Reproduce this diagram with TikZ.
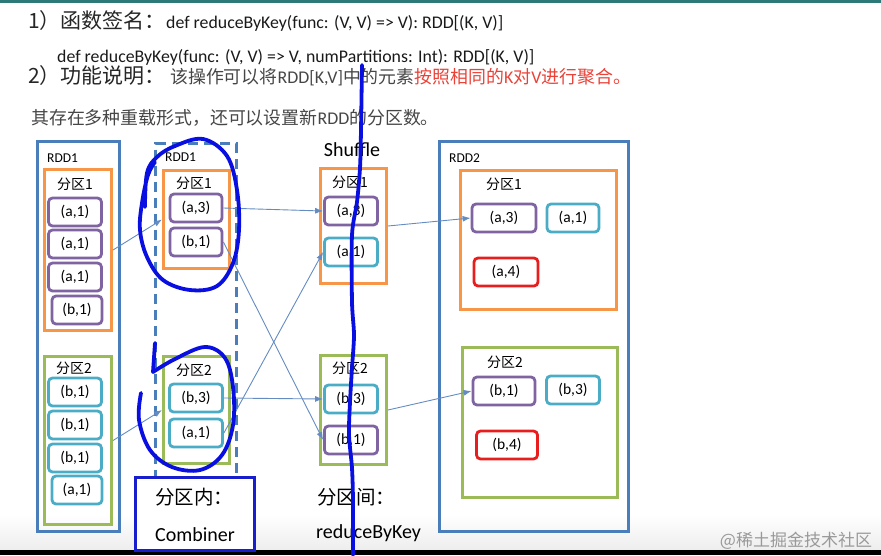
\documentclass[tikz,border=0pt]{standalone}
\usepackage{fontspec}
\setmainfont{Carlito}
\newfontfamily\cjk{Noto Sans CJK SC}
\usepackage{xcolor}
\usepackage{tikz}
\usetikzlibrary{arrows.meta, positioning}
\definecolor{rddblue}{RGB}{74,126,187}
\definecolor{partorange}{RGB}{247,150,70}
\definecolor{partgreen}{RGB}{155,187,89}
\definecolor{kvpurple}{RGB}{128,100,162}
\definecolor{kvteal}{RGB}{75,172,198}
\definecolor{kvred}{RGB}{232,30,30}
\definecolor{flowblue}{RGB}{100,140,195}
\definecolor{inkblue}{RGB}{10,15,225}
\definecolor{combblue}{RGB}{25,30,205}
\definecolor{textgray}{RGB}{70,70,70}
\definecolor{notered}{RGB}{235,65,55}
\definecolor{topteal}{RGB}{45,120,120}
\newcommand{\zh}[1]{{\cjk #1}}

\begin{document}
\begin{tikzpicture}[x=1pt, y=-1pt,
    frame/.style={draw, line width=3pt, anchor=north west, inner sep=0pt},
    rddframe/.style={frame, draw=rddblue},
    orangeframe/.style={frame, draw=partorange},
    greenframe/.style={frame, draw=partgreen},
    kv/.style={draw, rounded corners=4pt, line width=2.8pt, minimum width=53pt, minimum height=28pt, inner sep=0pt, font=\fontsize{15.5}{15.5}\selectfont},
    kvp/.style={kv, draw=kvpurple},
    kvt/.style={kv, draw=kvteal},
    kvr/.style={kv, draw=kvred},
    lbl/.style={inner sep=0pt, font=\fontsize{13.5}{13.5}\selectfont},
    part/.style={inner sep=0pt, font=\fontsize{14}{14}\selectfont\cjk},
    big/.style={inner sep=0pt, font=\fontsize{20}{20}\selectfont},
    line/.style={anchor=base west, inner sep=0pt, font=\fontsize{17.8}{17.8}\selectfont},
    desc/.style={line, text=textgray, font=\fontsize{17.9}{17.9}\selectfont},
    head/.style={anchor=base west, inner sep=0pt, text height=15pt, text=black!85, font=\fontsize{21}{21}\selectfont\cjk},
    flow/.style={draw=flowblue, line width=0.9pt, -{Latex[length=8pt,width=6pt]}},
    ink/.style={draw=inkblue, line width=3.8pt, line cap=round, line join=round}]
\useasboundingbox (0,0) rectangle (881,555);
\fill[topteal] (0,0) rectangle (881,2.5);
\shade[top color=white, bottom color=black!7] (0,515) rectangle (881,550);
\fill[black] (0,550) rectangle (881,555);

\node[head] (sigHead) at (28,28) {1）函数签名：};
\node[line, text=black!90] (sigOne) at (166,28) {def reduceByKey(func: (V, V) => V): RDD[(K, V)]};
\node[line, text=black!90, text depth=3pt] (sigTwo) at (57,62) {def reduceByKey(func: (V, V) => V, numPartitions: Int): RDD[(K, V)]};
\node[head] (descHead) at (28,83) {2）功能说明：};
\node[desc] (descText) at (170,83) {\zh{该操作可以将}RDD[K,V]\zh{中的元素}\textcolor{notered}{\zh{按照相同的}K\zh{对}V\zh{进行聚合。}}};
\node[desc] (descMore) at (31,124) {\zh{其存在多种重载形式，还可以设置新}RDD\zh{的分区数。}};

% RDD1
\node[rddframe, minimum width=82pt, minimum height=390pt] (rddA) at (36,140) {};
\node[lbl, anchor=west] (rddAname) at (47,158) {RDD1};
\node[orangeframe, minimum width=67pt, minimum height=161pt] (rddAp1) at (43,168) {};
\node[part] (rddAp1name) at (75,184) {分区1};
\node[kvp] (la1) at (75,212) {(a,1)};
\node[kvp] (la2) at (75,244) {(a,1)};
\node[kvp] (la3) at (75,277) {(a,1)};
\node[kvp, minimum width=50pt] (lb1) at (77,310) {(b,1)};
\node[greenframe, minimum width=67pt, minimum height=168pt] (rddAp2) at (43,355) {};
\node[part] (rddAp2name) at (74,368) {分区2};
\node[kvt] (lb2) at (75,392) {(b,1)};
\node[kvt] (lb3) at (75,425) {(b,1)};
\node[kvt] (lb4) at (75,458) {(b,1)};
\node[kvt, minimum width=50pt] (la4) at (77,490) {(a,1)};

% RDD1 after combine
\node[rddframe, dashed, dash pattern=on 10pt off 6pt, minimum width=81pt, minimum height=360pt] (rddB) at (154,142) {};
\node[lbl, anchor=west] (rddBname) at (165,157) {RDD1};
\node[orangeframe, minimum width=66pt, minimum height=98pt] (rddBp1) at (162,169) {};
\node[part] (rddBp1name) at (194,183) {分区1};
\node[kvp, minimum width=52pt] (ma3) at (196,208) {(a,3)};
\node[kvp, minimum width=52pt] (mb1) at (196,242) {(b,1)};
\node[greenframe, minimum width=66pt, minimum height=107pt] (rddBp2) at (162,355) {};
\node[part] (rddBp2name) at (194,370) {分区2};
\node[kvt, minimum width=53pt] (mb3) at (196,398) {(b,3)};
\node[kvt, minimum width=53pt] (ma1) at (196,433) {(a,1)};
\node[frame, draw=combblue, line width=3.2pt, fill=white, minimum width=119pt, minimum height=73pt] (comb) at (134,476) {};
\node[big, anchor=west, font=\fontsize{19.5}{19.5}\selectfont\cjk] (combHead) at (155,497) {分区内：};
\node[big] (combName) at (195,535) {Combiner};

% Shuffle
\node[big] (shuffleName) at (352,150) {Shuffle};
\node[orangeframe, minimum width=66pt, minimum height=115pt] (shp1) at (319,167) {};
\node[part] (shp1name) at (350,182) {分区1};
\node[kvp] (sa3) at (351,211) {(a,3)};
\node[kvt] (sa1) at (351,252) {(a,1)};
\node[greenframe, minimum width=66pt, minimum height=109pt] (shp2) at (319,354) {};
\node[part] (shp2name) at (350,368) {分区2};
\node[kvt] (sb3) at (351,399) {(b,3)};
\node[kvp] (sb1) at (351,440) {(b,1)};
\node[big, anchor=west, font=\fontsize{19.5}{19.5}\selectfont\cjk] (shuffleHead) at (317,497) {分区间：};
\node[big, anchor=west] (shuffleName2) at (316,533) {reduceByKey};

% RDD2
\node[rddframe, minimum width=189pt, minimum height=390pt] (rddC) at (438,140) {};
\node[lbl, anchor=west] (rddCname) at (449,158) {RDD2};
\node[orangeframe, minimum width=156pt, minimum height=139pt] (rddCp1) at (459,169) {};
\node[part] (rddCp1name) at (504,184) {分区1};
\node[kvp, minimum width=64pt] (ra3) at (504,218) {(a,3)};
\node[kvt, minimum width=52pt] (ra1) at (573,218) {(a,1)};
\node[kvr, minimum width=64pt] (ra4) at (506,272) {(a,4)};
\node[greenframe, minimum width=155pt, minimum height=150pt] (rddCp2) at (461,346) {};
\node[part] (rddCp2name) at (505,362) {分区2};
\node[kvp, minimum width=62pt] (rb1) at (504,391) {(b,1)};
\node[kvt, minimum width=53pt] (rb3) at (573,390) {(b,3)};
\node[kvr, minimum width=61pt] (rb4) at (507,445) {(b,4)};

\draw[flow] (rddAp1.east) -- (rddBp1.west);
\draw[flow] (rddAp2.east) -- (rddBp2.west);
\draw[flow] (ma3.east) -- (sa3.west);
\draw[flow] (mb1.east) -- (sb1.west);
\draw[flow] (mb3.east) -- (sb3.west);
\draw[flow] (ma1.east) -- (sa1.west);
\draw[flow] (shp1.east) -- (ra3.west);
\draw[flow] (shp2.east) -- (rb1.west);

\node[inner sep=0pt, text=black!40, font=\fontsize{17}{17}\selectfont\cjk] (mark) at (796,541) {@稀土掘金技术社区};

% hand-drawn marks
\draw[ink] plot[smooth, tension=0.6] coordinates {(145,207) (147,173) (157,157) (175,146) (203,139) (227,156) (237,190) (239,230) (233,263) (217,286) (190,290) (163,280) (147,257) (140,230) (142,203) (148,175) (155,162)};
\draw[ink] plot[smooth, tension=0.6] coordinates {(155,343) (153,372)};
\draw[ink] plot[smooth, tension=0.6] coordinates {(153,372) (175,359) (205,347) (225,358) (233,387) (233,425) (222,455) (200,470) (172,467) (150,450) (139,420) (141,393)};
\draw[ink] plot[smooth, tension=0.5] coordinates {(362,65) (361,130) (360,168) (357,202) (352,235) (352,302) (354,335) (352,368) (350,402) (349,435) (352,468) (353,502) (353,555)};
\end{tikzpicture}
\end{document}
